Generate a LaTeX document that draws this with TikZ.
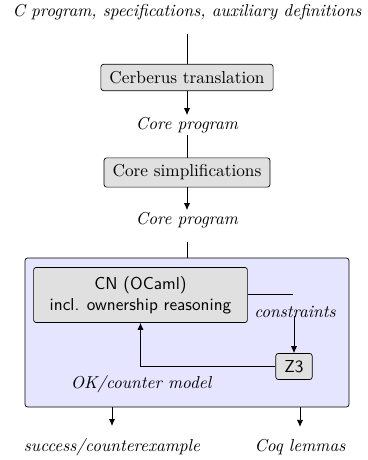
\documentclass[tikz,border=0pt]{standalone}
\usetikzlibrary{positioning, calc, fit, arrows.meta}
\tikzset{
    step box/.style={draw, rounded corners=1.5pt, fill=black!12, inner xsep=5pt, inner ysep=4pt},
    sans box/.style={step box, font=\sffamily, align=center},
    data label/.style={font=\itshape, inner sep=1pt},
    outer frame/.style={draw, rounded corners=1.5pt, fill=blue!10, inner sep=0pt},
    flow/.style={-{Latex[length=4pt, width=3.5pt]}},
}

\begin{document}
\begin{tikzpicture}[x=0.58pt, y=-0.58pt]
    \useasboundingbox (0,0) rectangle (368,460);
    % pipeline
    \node[data label] (input) at (187,12) {C program, specifications, auxiliary definitions};
    \node[step box] (cerb) at (187,77.5) {Cerberus translation};
    \node[data label] (core1) at (187,125) {Core program};
    \node[step box] (simp) at (187,172.5) {Core simplifications};
    \node[data label] (core2) at (187,220) {Core program};
    % CN frame
    \coordinate (fa) at (25,258);
    \coordinate (fb) at (349,407);
    \node[outer frame, fit=(fa)(fb)] (frame) {};
    \node[sans box, minimum width=124pt, minimum height=32pt] (cn) at (140.5,295) {CN (OCaml)\\incl. ownership reasoning};
    \node[sans box] (z3) at (294,366.5) {Z3};
    \coordinate (split) at (293,294);
    \node[data label] (cons) at (295,312) {constraints};
    \node[data label] (okm) at (141,384) {OK/counter model};
    \node[data label] (succ) at (112,447) {success/counterexample};
    \node[data label] (coq) at (300,447) {Coq lemmas};

    \draw[shorten <=7pt] (input) -- (cerb);
    \draw[flow] (cerb) -- (core1);
    \draw (core1) -- (simp);
    \draw[flow] (simp) -- (core2);
    \draw[shorten <=7pt] (core2) -- (frame);
    \draw (cn.east |- split) -- (split);
    \draw[flow] (cons.south -| z3.north) ++(0,-4) -- (z3.north);
    \draw[flow] (z3.west) -| (cn.south);
    \draw[flow, shorten >=6pt] (frame.south -| succ) -- (succ);
    \draw[flow, shorten >=6pt] (frame.south -| coq) -- (coq);
\end{tikzpicture}
\end{document}
